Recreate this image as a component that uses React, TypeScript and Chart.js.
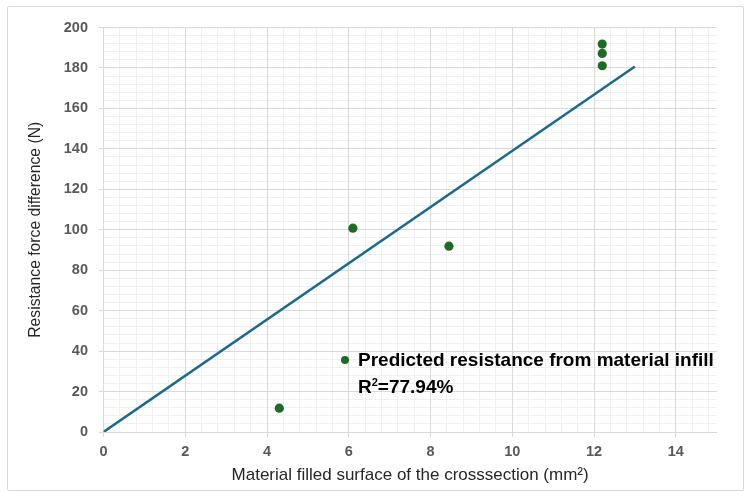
import React, { useEffect, useRef } from "react";
import { Chart, registerables } from "chart.js";

Chart.register(...registerables);

// Measured data points
const pointX = [4.3, 6.1, 8.45, 12.2, 12.2, 12.2];
const pointY = [11.8, 100.8, 91.9, 181.1, 187.2, 191.8];

// Fitted line (prediction)
const fitX = [0, 13];
const fitY = [0, 180.7];

const seriesLabel = "Predicted resistance from material infill";
const rSquaredValue = "=77.94%";
const xTitle = "Material filled surface of the crosssection (mm²)";
const yTitle = "Resistance force difference (N)";

const xMin = 0;
const xMax = 15;
const xMajorStep = 2;
const xMinorStep = 0.4;
const yMin = 0;
const yMax = 200;
const yMajorStep = 20;
const yMinorStep = 4;

const POINT_COLOR = "#1d6b24";
const LINE_COLOR = "#1c6a8b";
const MAJOR_GRID = "#d9d9d9";
const MINOR_GRID = "#f0f0f0";

export default function App() {
  const canvasRef = useRef<HTMLCanvasElement | null>(null);

  useEffect(() => {
    const canvas = canvasRef.current;
    if (!canvas) return;
    const chart = new Chart(canvas, {
      type: "scatter",
      data: {
        datasets: [
          {
            label: seriesLabel,
            data: pointX.map((x, i) => ({ x, y: pointY[i] })),
            backgroundColor: POINT_COLOR,
            borderColor: POINT_COLOR,
            pointRadius: 4.6,
            pointBorderWidth: 0,
            order: 1,
          },
          {
            label: "fit",
            data: fitX.map((x, i) => ({ x, y: fitY[i] })),
            showLine: true,
            borderColor: LINE_COLOR,
            borderWidth: 2.5,
            pointRadius: 0,
            order: 2,
          },
        ],
      },
      options: {
        responsive: false,
        animation: false,
        devicePixelRatio: 1,
        layout: { padding: { left: 8, right: 33.3, top: 27.5, bottom: 4 } },
        plugins: {
          legend: { display: false },
          tooltip: { enabled: false },
        },
        scales: {
          xMinor: {
            type: "linear",
            position: "bottom",
            min: xMin,
            max: xMax,
            z: -1,
            ticks: { display: false, stepSize: xMinorStep, includeBounds: false },
            grid: { color: MINOR_GRID, drawTicks: false },
            border: { display: false },
            afterFit: (s: any) => {
              s.height = 0;
            },
          },
          yMinor: {
            type: "linear",
            position: "left",
            min: yMin,
            max: yMax,
            z: -1,
            ticks: { display: false, stepSize: yMinorStep, includeBounds: false },
            grid: { color: MINOR_GRID, drawTicks: false },
            border: { display: false },
            afterFit: (s: any) => {
              s.width = 0;
            },
          },
          x: {
            type: "linear",
            position: "bottom",
            min: xMin,
            max: xMax,
            ticks: {
              stepSize: xMajorStep,
              includeBounds: false,
              color: "#595959",
              font: { family: "Liberation Sans", size: 14.5, weight: "bold" },
              padding: 6,
              maxRotation: 0,
            },
            grid: { color: MAJOR_GRID, tickLength: 5 },
            border: { color: MAJOR_GRID },
            title: {
              display: true,
              text: xTitle,
              color: "#262626",
              font: { family: "Liberation Sans", size: 17, weight: "normal" },
              padding: { top: 0, bottom: 7 },
            },
            afterFit: (s: any) => {
              s.height = 61;
            },
          },
          y: {
            type: "linear",
            position: "left",
            min: yMin,
            max: yMax,
            ticks: {
              stepSize: yMajorStep,
              color: "#595959",
              font: { family: "Liberation Sans", size: 14.5, weight: "bold" },
              padding: 10.5,
            },
            grid: { color: MAJOR_GRID, tickLength: 5 },
            border: { color: MAJOR_GRID },
            title: {
              display: true,
              text: yTitle,
              color: "#262626",
              font: { family: "Liberation Sans", size: 15.7, weight: "normal" },
              padding: { top: 18, bottom: 0 },
            },
            afterFit: (s: any) => {
              s.width = 95.5;
            },
          },
        },
      },
    });
    return () => chart.destroy();
  }, []);

  return (
    <div
      style={{
        position: "absolute",
        left: 0,
        top: 0,
        width: 750,
        height: 497,
        background: "#ffffff",
      }}
    >
      <div
        style={{
          position: "absolute",
          left: 7,
          top: 6,
          width: 735,
          height: 483,
          border: "1px solid #d9d9d9",
          borderRadius: 2,
        }}
      />
      <canvas
        ref={canvasRef}
        width={750}
        height={497}
        style={{ position: "absolute", left: 0, top: 0, width: 750, height: 497 }}
      />
      <div
        style={{
          position: "absolute",
          left: 341,
          top: 346,
          fontFamily: "'Liberation Sans', Arial, sans-serif",
          fontWeight: "bold",
          fontSize: 19,
          lineHeight: "27px",
          color: "#000000",
          whiteSpace: "nowrap",
        }}
      >
        <div style={{ display: "flex", alignItems: "center" }}>
          <span
            style={{
              display: "inline-block",
              width: 8,
              height: 8,
              borderRadius: "50%",
              background: POINT_COLOR,
              marginRight: 9,
            }}
          />
          <span>{seriesLabel}</span>
        </div>
        <div style={{ paddingLeft: 17 }}>
          R
          <span
            style={{
              fontSize: 11,
              position: "relative",
              top: -7,
            }}
          >
            2
          </span>
          {rSquaredValue}
        </div>
      </div>
    </div>
  );
}
